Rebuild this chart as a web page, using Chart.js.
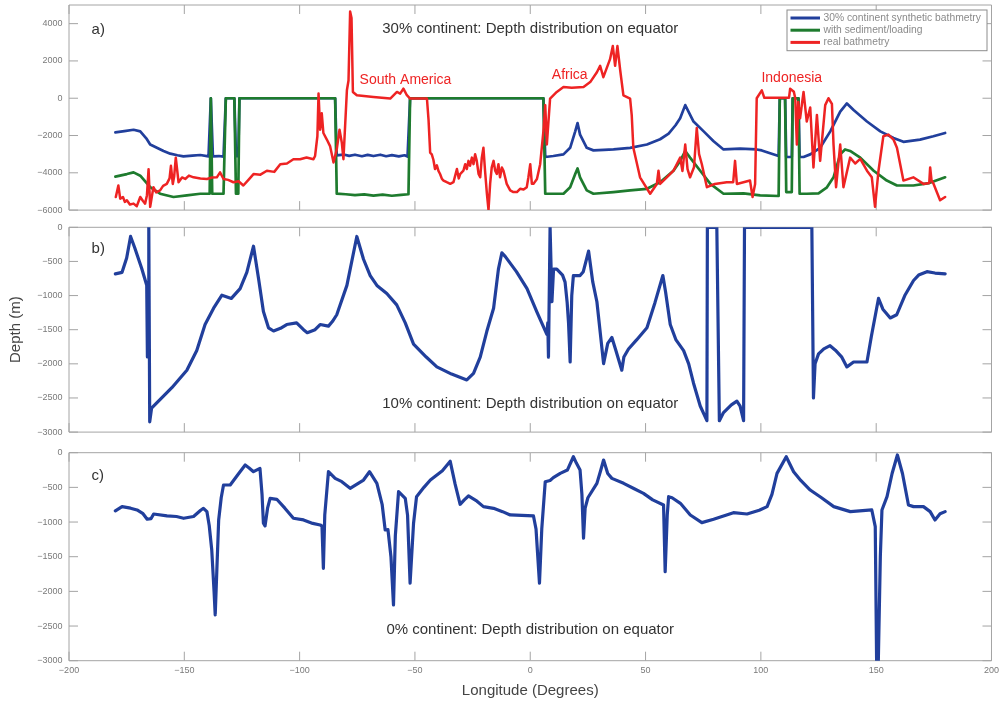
<!DOCTYPE html>
<html>
<head>
<meta charset="utf-8">
<title>Depth distribution on equator</title>
<script src="https://cdn.jsdelivr.net/npm/chart.js@4.4.1/dist/chart.umd.min.js"></script>
<style>
  html, body { margin: 0; padding: 0; background: #fff; }
  #wrap { position: relative; width: 1003px; height: 703px; overflow: hidden; }
  #wrap canvas { position: absolute; left: 0; }
</style>
</head>
<body>
<div id="wrap">
  <canvas id="panelA" width="1003" height="232" style="top:-10px"></canvas>
  <canvas id="panelB" width="1003" height="232" style="top:212px"></canvas>
  <canvas id="panelC" width="1003" height="263" style="top:440px"></canvas>
</div>
<script>
// axis ticks
const lonTicks = [-200, -150, -100, -50, 0, 50, 100, 150, 200];
const depthTicksA = [-6000, -4000, -2000, 0, 2000, 4000];
const depthTicksBC = [-3000, -2500, -2000, -1500, -1000, -500, 0];

// a) 30% continent: [longitude, depth]
const synth30 = [
  [-179.9,-1828],[-176,-1760],[-172.0,-1691],[-169.1,-1780],[-166.5,-2150],[-164.8,-2483],[-161.9,-2660],
  [-159.0,-2832],[-156.1,-2974],[-153,-3060],[-150.4,-3117],[-146.5,-3080],[-143.1,-3046],[-139.5,-3117],
  [-138.5,0],[-137.6,-3117],[-135,-3100],[-133.0,-3135],[-132.0,0],[-128.3,0],[-127.6,-3100],[-126.6,-3100],
  [-126.1,0],[-84.6,0],[-83.9,-3061],[-81,-3020],[-78.5,-3090],[-76,-3030],[-73,-3110],[-70.5,-3040],
  [-68,-3100],[-65,-3030],[-62.5,-3110],[-60,-3050],[-57,-3120],[-54.5,-3060],[-53.2,-3131],[-52.1,0],
  [5.7,0],[6.5,-3152],[10,-3100],[14.4,-3011],[17.3,-2660],[19.5,-1777],[20.5,-1337],[21.6,-1954],
  [24.5,-2660],[27.4,-2797],[32,-2770],[36.1,-2748],[43.3,-2660],[50.6,-2483],[56.3,-2200],[60,-1900],
  [63,-1450],[65.0,-1073],[67.2,-370],[70.8,-1249],[75.2,-1777],[79.5,-2303],[83.8,-2748],[91.0,-2700],
  [98.2,-2748],[100.4,-2800],[104,-2950],[107.7,-3100],[108.2,0],[110.5,0],[111.0,-3152],[113.4,-3152],
  [113.8,0],[116.3,0],[116.8,-3152],[118.5,-3152],[121.4,-3011],[125.7,-2660],[130.1,-1777],[134.4,-720],
  [137.3,-281],[140.2,-632],[146.0,-1249],[151.8,-1777],[157.5,-2129],[161.8,-2340],[169.0,-2218],
  [174.8,-2040],[179.9,-1865]
];
const sediment30 = [
  [-179.9,-4205],[-174.9,-4067],[-172.0,-3978],[-169.1,-4155],[-164.8,-4770],[-160.5,-5123],[-154.7,-5298],
  [-148.9,-5210],[-143.1,-5123],[-139.0,-5123],[-138.5,0],[-137.9,-5123],[-133.0,-5123],[-132.0,0],
  [-128.3,0],[-127.6,-5123],[-126.6,-5123],[-126.1,0],[-84.6,0],[-83.9,-5120],[-80,-5150],[-76,-5200],
  [-72,-5160],[-68,-5220],[-64,-5170],[-60,-5230],[-56,-5180],[-52.8,-5150],[-52.1,0],[5.7,0],[6.5,-5123],
  [14.4,-5123],[17.3,-4770],[19.5,-4067],[20.5,-3766],[21.6,-4242],[24.5,-4944],[27.4,-5123],[36.1,-5034],
  [43.3,-4944],[50.6,-4858],[56.3,-4506],[62.1,-3888],[65.0,-3360],[67.2,-2832],[69.3,-3186],[73.7,-3888],
  [78.1,-4596],[83.8,-5123],[92.5,-5100],[99.7,-5210],[107.7,-5245],[108.2,0],[110.5,0],[111.0,-5034],
  [113.4,-5034],[113.8,0],[116.3,0],[116.8,-5123],[119.9,-5123],[125,-5100],[128.5,-4800],[131.5,-4242],
  [134.4,-3011],[136.5,-2748],[138.7,-2830],[143.1,-3186],[148.9,-3888],[154.6,-4416],[159.0,-4680],
  [166.1,-4680],[173,-4550],[179.9,-4242]
];
const realBathy = [
  [-179.7,-5298],[-178.6,-4680],[-177.8,-5387],[-176.6,-5300],[-175.8,-5560],[-174.9,-5472],[-173.6,-5700],
  [-172.0,-5652],[-170.6,-5789],[-169.1,-5298],[-168.0,-5500],[-167.0,-5652],[-166.2,-5200],[-165.5,-3803],
  [-164.8,-5826],[-163.4,-4770],[-162.2,-5050],[-160.5,-4944],[-159.2,-4700],[-157.6,-4596],[-156.4,-4300],
  [-155.8,-3624],[-155.0,-4596],[-154.4,-4200],[-153.7,-3186],[-152.5,-4506],[-151,-4250],[-149.6,-4330],
  [-148,-4150],[-146.0,-4242],[-143,-4300],[-140.2,-4330],[-138,-4250],[-135.9,-4242],[-134.5,-3978],
  [-133.0,-4330],[-131,-4380],[-128.7,-4506],[-126.5,-4450],[-124.4,-4680],[-122,-4350],[-120.0,-4067],
  [-117,-4100],[-114.2,-3888],[-111,-3950],[-108.4,-3539],[-105.5,-3500],[-102.7,-3275],[-99.8,-3272],
  [-97,-3180],[-94.0,-3272],[-93.3,-3096],[-92.3,-2040],[-91.8,248],[-91.1,-1688],[-90.4,-808],
  [-89.7,-1864],[-88.2,-2216],[-86.8,-2568],[-85.3,-3448],[-83.9,-2744],[-82.7,-1688],[-81.7,-2392],
  [-81.0,-3272],[-79.5,424],[-78.8,952],[-78.1,4648],[-77.5,4300],[-76.9,336],[-75.2,160],[-68.0,72],
  [-60.7,-16],[-57.8,336],[-56.4,248],[-55.0,512],[-53.5,160],[-52.1,-16],[-44.8,-16],[-44.1,-1160],
  [-43.4,-2920],[-42.7,-3008],[-42.0,-3300],[-41.3,-3800],[-40.5,-3600],[-39.8,-3900],[-39.1,-4064],
  [-38.3,-4328],[-37.6,-4416],[-36.2,-4504],[-34.7,-4592],[-33.3,-4504],[-31.8,-3800],[-31.0,-4300],
  [-30.4,-4064],[-29.0,-3888],[-28.2,-3536],[-27.5,-3800],[-26.8,-3360],[-26.1,-3620],[-25.3,-3184],
  [-24.6,-3536],[-23.9,-3008],[-23.2,-3360],[-22.4,-4064],[-21.7,-4240],[-21.0,-3184],[-20.3,-2656],
  [-19.6,-3888],[-18.8,-5120],[-18.1,-6000],[-17.4,-4592],[-16.7,-3712],[-15.9,-3360],[-15.2,-3888],
  [-14.5,-4064],[-13.8,-3536],[-13.1,-4240],[-12.3,-3712],[-11.6,-3888],[-10.9,-4240],[-10.2,-4592],
  [-8.7,-4944],[-7.3,-5032],[-5.8,-5032],[-4.4,-4856],[-2.9,-4900],[-1.5,-4770],[-0.8,-4240],[0,-3536],
  [0.7,-4592],[1.4,-4592],[2.9,-4328],[4.3,-3536],[5.7,-1777],[6.5,-370],[7.2,-2483],[8.6,-17],[11.5,337],
  [14.4,600],[18,560],[23.1,600],[26.0,865],[28.9,1393],[30.3,1742],[31.7,1129],[34.6,2096],[35.8,2798],
  [36.8,1742],[37.8,2798],[39,1500],[40.4,157],[43.3,-17],[44.0,-900],[44.7,-2660],[47.6,-4242],
  [52.0,-5123],[54.9,-4596],[55.6,-3888],[56.3,-4596],[59.2,-4242],[62.1,-3888],[65.0,-3186],[66,-3900],
  [67.2,-2483],[68.2,-3800],[69.3,-4242],[71,-3700],[72.2,-1601],[73.2,-3000],[74.4,-3539],[76.6,-4770],
  [80,-4600],[85.2,-4506],[88.0,-4500],[88.8,-3360],[89.6,-4596],[95.3,-4416],[96.4,-5298],[97.5,-4600],
  [98.2,0],[100.4,422],[101.5,20],[112.2,20],[112.7,510],[114.3,350],[114.9,0],[115.6,-2483],[116.2,-200],
  [117.0,-1073],[118.5,337],[119.9,-1249],[121.4,-500],[122.8,-3714],[124.3,-897],[125.7,-3360],
  [127.9,-370],[129.3,0],[130.8,-300],[131.5,-2483],[132.6,-4770],[134.4,-2483],[135.8,-4770],
  [138.7,-3186],[140.9,-3500],[143.1,-3250],[146.0,-3888],[148.1,-4242],[149.5,-5826],[151.0,-3888],
  [153.1,-2040],[155.3,-1950],[157.5,-2218],[159.0,-2660],[161.8,-4416],[166.1,-4242],[170.5,-4596],
  [173.0,-4550],[173.4,-3714],[174.0,-4400],[174.9,-4596],[177.7,-5475],[179.9,-5298]
];

// b) 10% continent
const synth10 = [
  [-179.9,-683],[-177,-660],[-175,-450],[-173.3,-134],[-171.5,-300],[-168.5,-600],[-166.3,-850],
  [-166.0,-1900],[-165.7,-1000],[-165.4,0],[-165.0,-2850],[-164.2,-2650],[-162.6,-2594],[-155.4,-2350],
  [-148.9,-2093],[-144.6,-1806],[-141.0,-1424],[-137.3,-1185],[-133.7,-994],[-129.6,-1042],[-125.8,-898],
  [-122.9,-660],[-120.0,-277],[-117.8,-755],[-115.7,-1233],[-113.5,-1472],[-111.3,-1519],[-108.3,-1480],
  [-105.6,-1424],[-101.3,-1400],[-98.3,-1500],[-96.7,-1543],[-93.3,-1500],[-91.1,-1424],[-87.5,-1448],
  [-85.8,-1380],[-83.9,-1281],[-79.5,-851],[-75.2,-134],[-72.3,-468],[-69.4,-708],[-66.5,-851],
  [-62.2,-970],[-57.9,-1137],[-54.2,-1400],[-50.6,-1711],[-45.1,-1900],[-40.5,-2045],[-34.1,-2150],
  [-27.5,-2236],[-24.6,-2141],[-21.7,-1902],[-18.8,-1520],[-15.9,-1185],[-13.8,-612],[-12.3,-373],
  [-10.8,-430],[-6.0,-650],[-1.4,-898],[3.0,-1250],[7.2,-1568],[7.6,-1400],[7.9,-1902],[8.6,0],[9.4,-1090],
  [10.1,-612],[11.5,-612],[14.0,-700],[15.1,-803],[16.0,-1100],[16.6,-1400],[17.3,-1973],[18.0,-1000],
  [18.7,-707],[21.6,-707],[23.0,-650],[25.3,-349],[27.1,-800],[28.9,-1090],[31.8,-1997],[33.6,-1700],
  [35.4,-1615],[37.1,-1800],[39.7,-2093],[40.6,-1900],[42.6,-1782],[46.1,-1650],[50.6,-1472],[54.1,-1100],
  [57.5,-707],[58.7,-950],[60.7,-1424],[63.2,-1650],[66.5,-1806],[68.7,-2000],[70.8,-2284],[73.7,-2618],
  [76.6,-2833],[76.8,0],[80.9,0],[82.0,-2833],[83.8,-2714],[87.2,-2600],[89.6,-2547],[91.0,-2620],
  [92.5,-2833],[92.9,0],[122.1,0],[122.8,-2499],[123.5,-2000],[125.0,-1854],[127.3,-1780],[130.0,-1734],
  [132.3,-1800],[135.1,-1902],[137.3,-2045],[140.2,-1973],[146.0,-1973],[147.9,-1600],[151.0,-1042],
  [152.9,-1200],[156.1,-1328],[158.9,-1281],[162.4,-1000],[166.2,-779],[168.4,-700],[172.0,-650],
  [175.5,-670],[179.9,-683]
];

// c) 0% continent
const synth0 = [
  [-179.9,-840],[-177,-778],[-173.3,-800],[-170.5,-826],[-167.9,-880],[-166.1,-960],[-164.4,-950],
  [-163.3,-884],[-157.5,-912],[-153.4,-920],[-150.3,-946],[-146,-920],[-142.9,-830],[-141.7,-802],
  [-140.2,-850],[-139.2,-1050],[-138.1,-1403],[-137.1,-2000],[-136.6,-2340],[-135.9,-1700],[-135.1,-970],
  [-134,-650],[-133.0,-466],[-130.1,-466],[-126.4,-300],[-123.6,-178],[-121.9,-220],[-120.0,-274],
  [-117.2,-226],[-116.3,-600],[-115.7,-1018],[-115.0,-1056],[-113.9,-800],[-112.8,-658],[-109.9,-672],
  [-106.4,-800],[-102.7,-946],[-98.3,-970],[-94.3,-1020],[-91.1,-1042],[-90.3,-1060],[-89.7,-1667],
  [-89.1,-900],[-87.5,-274],[-84.6,-370],[-81.7,-418],[-78.1,-514],[-72.3,-394],[-69.7,-274],[-66.5,-442],
  [-64.2,-750],[-62.9,-1115],[-61.7,-1110],[-60.4,-1500],[-59.3,-2196],[-58.5,-1200],[-57.1,-562],
  [-54.2,-658],[-53.2,-900],[-52.1,-1883],[-50.6,-1018],[-49.3,-634],[-46.1,-500],[-43.3,-394],
  [-38.1,-260],[-34.7,-124],[-32.6,-450],[-30.4,-744],[-28.6,-680],[-26.8,-624],[-23.1,-700],[-20.3,-778],
  [-15.9,-802],[-12.0,-850],[-8.7,-898],[1.4,-912],[2.5,-1100],[4.0,-1883],[5.0,-1100],[6.5,-418],
  [8.6,-400],[10.0,-360],[13.0,-298],[16.1,-250],[18.7,-58],[20.0,-150],[21.6,-250],[22.4,-600],
  [23.1,-1234],[23.8,-800],[25.0,-650],[28.9,-442],[30.6,-250],[31.8,-106],[33.6,-300],[35.4,-370],
  [40.5,-442],[45.1,-520],[49.1,-586],[53.1,-680],[57.8,-754],[58.5,-1716],[59.4,-900],[60.0,-634],
  [61.5,-650],[65.1,-730],[69.4,-898],[74.4,-1009],[79.5,-960],[88.1,-865],[94.0,-884],[99.3,-830],
  [102.7,-778],[104.8,-600],[107.0,-298],[111.0,-58],[114.2,-274],[117.3,-400],[121.4,-538],[126.3,-650],
  [131.6,-778],[138.8,-850],[148.1,-826],[149.6,-1067],[150.2,-3050],[150.9,-3050],[151.8,-1500],
  [152.5,-826],[154.7,-634],[156.9,-300],[159.2,-33],[161.4,-300],[164.0,-754],[166.2,-778],[170.5,-778],
  [173.4,-850],[175.5,-970],[177.7,-880],[179.9,-850]
];

const FONT = '"Liberation Sans", Arial, Helvetica, sans-serif';
const BLUE = '#213f9c';
const GREEN = '#1e7b2e';
const RED = '#ee2323';

const toXY = pairs => pairs.map(p => ({ x: p[0], y: p[1] }));
const minus = v => String(v).replace('-', '\u2212');

function series(label, pairs, color, width, order) {
  return {
    label: label,
    data: toXY(pairs),
    borderColor: color,
    backgroundColor: color,
    borderWidth: width,
    pointRadius: 0,
    fill: false,
    order: order
  };
}

// box, inward ticks, panel text and legend
function framePlugin(depthTicks, notes, withLegend) {
  return {
    id: 'frame',
    beforeDatasetsDraw(chart) {
      const { ctx, chartArea: a, scales: { x, y } } = chart;
      ctx.save();
      ctx.strokeStyle = '#a4a4a4';
      ctx.lineWidth = 1;
      ctx.beginPath();
      ctx.rect(a.left, a.top, a.width, a.height);
      lonTicks.forEach(v => {
        const px = x.getPixelForValue(v);
        ctx.moveTo(px, a.top); ctx.lineTo(px, a.top + 9);
        ctx.moveTo(px, a.bottom); ctx.lineTo(px, a.bottom - 9);
      });
      depthTicks.forEach(v => {
        const py = y.getPixelForValue(v);
        ctx.moveTo(a.left, py); ctx.lineTo(a.left + 9, py);
        ctx.moveTo(a.right, py); ctx.lineTo(a.right - 9, py);
      });
      ctx.stroke();
      ctx.restore();
    },
    afterDatasetsDraw(chart) {
      const { ctx, chartArea: a, scales: { x, y } } = chart;
      ctx.save();
      ctx.textBaseline = 'middle';
      notes.forEach(n => {
        ctx.font = n.size + 'px ' + FONT;
        ctx.fillStyle = n.color;
        ctx.textAlign = n.align || 'center';
        ctx.fillText(n.text, x.getPixelForValue(n.lon), y.getPixelForValue(n.depth));
      });
      if (withLegend) {
        const right = a.right - 4.5, left = right - 200;
        const top = a.top + 5, bottom = a.top + 45.7;
        ctx.fillStyle = '#fff';
        ctx.fillRect(left, top, right - left, bottom - top);
        ctx.strokeStyle = '#8c8c8c';
        ctx.lineWidth = 1;
        ctx.strokeRect(left, top, right - left, bottom - top);
        ctx.font = '10.3px ' + FONT;
        ctx.textAlign = 'left';
        chart.data.datasets.forEach((ds, i) => {
          const ry = a.top + 13 + i * 12.2;
          ctx.strokeStyle = ds.borderColor;
          ctx.lineWidth = 3;
          ctx.beginPath();
          ctx.moveTo(left + 3.5, ry);
          ctx.lineTo(left + 33, ry);
          ctx.stroke();
          ctx.fillStyle = '#8a8a8a';
          ctx.fillText(ds.label, left + 36.5, ry);
        });
      }
      ctx.restore();
    }
  };
}

function panel(id, cfg) {
  return new Chart(document.getElementById(id), {
    type: 'line',
    data: { datasets: cfg.datasets },
    options: {
      responsive: false,
      animation: false,
      events: [],
      layout: { padding: cfg.padding },
      elements: { line: { tension: 0, borderJoinStyle: 'round', borderCapStyle: 'round' } },
      plugins: { legend: { display: false }, tooltip: { enabled: false } },
      scales: {
        x: {
          type: 'linear',
          min: -200,
          max: 200,
          display: cfg.showLon,
          grid: { display: false, drawTicks: false },
          border: { display: false },
          afterBuildTicks: s => { s.ticks = lonTicks.map(v => ({ value: v })); },
          afterFit: cfg.showLon ? s => { s.height = 42.3; } : undefined,
          ticks: { color: '#7a7a7a', font: { family: FONT, size: 9 }, padding: 4, maxRotation: 0, callback: minus },
          title: {
            display: cfg.showLon,
            text: 'Longitude (Degrees)',
            color: '#444',
            font: { family: FONT, size: 15 },
            padding: { top: 0, bottom: 3 }
          }
        },
        y: {
          type: 'linear',
          min: cfg.yMin,
          max: cfg.yMax,
          grid: { display: false, drawTicks: false },
          border: { display: false },
          afterBuildTicks: s => { s.ticks = cfg.depthTicks.map(v => ({ value: v })); },
          afterFit: s => { s.width = 69; },
          ticks: { color: '#7a7a7a', font: { family: FONT, size: 9 }, padding: 6.5, callback: minus },
          title: {
            display: !!cfg.yTitle,
            text: cfg.yTitle || '',
            color: '#444',
            font: { family: FONT, size: 15 },
            padding: { top: 7, bottom: 0 }
          }
        }
      }
    },
    plugins: [framePlugin(cfg.depthTicks, cfg.notes, cfg.legend)]
  });
}

panel('panelA', {
  datasets: [
    series('30% continent synthetic bathmetry', synth30, BLUE, 2.7, 3),
    series('with sediment/loading', sediment30, GREEN, 2.7, 2),
    series('real bathmetry', realBathy, RED, 2.5, 1)
  ],
  padding: { top: 15, bottom: 8.7, left: 0, right: 11.5 },
  showLon: false,
  yMin: -6000, yMax: 5000,
  depthTicks: depthTicksA,
  legend: true,
  notes: [
    { text: 'a)', lon: -190.2, depth: 3680, align: 'left', color: '#333', size: 15 },
    { text: '30% continent: Depth distribution on equator', lon: 0, depth: 3700, color: '#333', size: 15 },
    { text: 'South America', lon: -54.1, depth: 987, color: RED, size: 14 },
    { text: 'Africa', lon: 17.1, depth: 1250, color: RED, size: 14 },
    { text: 'Indonesia', lon: 113.4, depth: 1092, color: RED, size: 14 }
  ]
});

panel('panelB', {
  datasets: [series('10% continent', synth10, BLUE, 3.2, 1)],
  padding: { top: 15.3, bottom: 7.3, left: 0, right: 11.5 },
  showLon: false,
  yMin: -3000, yMax: 0,
  depthTicks: depthTicksBC,
  yTitle: 'Depth (m)',
  legend: false,
  notes: [
    { text: 'b)', lon: -190.2, depth: -315, align: 'left', color: '#333', size: 15 },
    { text: '10% continent: Depth distribution on equator', lon: 0, depth: -2585, color: '#333', size: 15 }
  ]
});

panel('panelC', {
  datasets: [series('0% continent', synth0, BLUE, 3.2, 1)],
  padding: { top: 12.7, bottom: 0, left: 0, right: 11.5 },
  showLon: true,
  yMin: -3000, yMax: 0,
  depthTicks: depthTicksBC,
  legend: false,
  notes: [
    { text: 'c)', lon: -190.2, depth: -336, align: 'left', color: '#333', size: 15 },
    { text: '0% continent: Depth distribution on equator', lon: 0, depth: -2557, color: '#333', size: 15 }
  ]
});
</script>
</body>
</html>
